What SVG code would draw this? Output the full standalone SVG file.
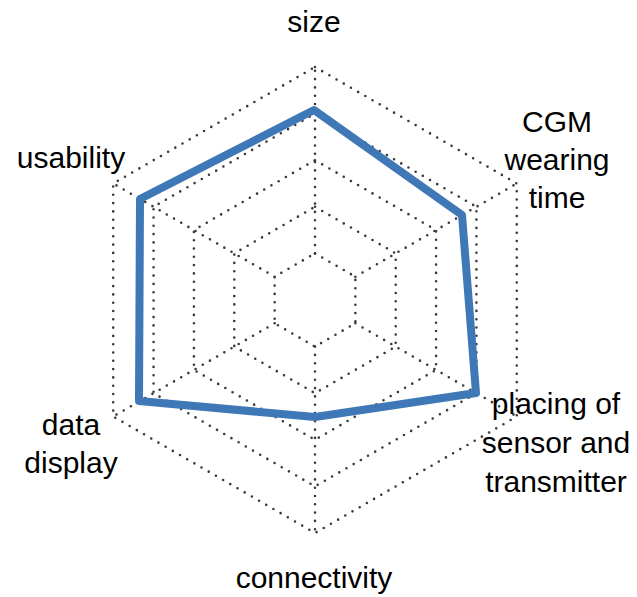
<svg xmlns="http://www.w3.org/2000/svg" width="637" height="597" viewBox="0 0 637 597">
<style>
.grid{fill:none;stroke:#3a3a3a;stroke-width:2.6;stroke-linecap:round;stroke-dasharray:0 8.3}
.data{fill:none;stroke:#3e78b6;stroke-width:8;stroke-linejoin:round;stroke-linecap:round}
.lbl{font-family:"Liberation Sans",Arial,sans-serif;font-size:30px;fill:#000;text-anchor:middle}
</style>
<rect width="637" height="597" fill="#fff"/>
<g id="grid">
<polygon class="grid" points="315,253.4 355.36,276.7 355.36,323.3 315,346.6 274.64,323.3 274.64,276.7"/>
<polygon class="grid" points="315,206.8 395.71,253.4 395.71,346.6 315,393.2 234.29,346.6 234.29,253.4"/>
<polygon class="grid" points="315,160.2 436.07,230.1 436.07,369.9 315,439.8 193.93,369.9 193.93,230.1"/>
<polygon class="grid" points="315,113.6 476.43,206.8 476.43,393.2 315,486.4 153.57,393.2 153.57,206.8"/>
<polygon class="grid" points="315,67 516.78,183.5 516.78,416.5 315,533 113.22,416.5 113.22,183.5"/>
</g>
<g id="connectors">
<line class="grid" x1="315" y1="253.4" x2="315" y2="67"/>
<line class="grid" x1="355.36" y1="276.7" x2="516.78" y2="183.5"/>
<line class="grid" x1="355.36" y1="323.3" x2="516.78" y2="416.5"/>
<line class="grid" x1="315" y1="346.6" x2="315" y2="533"/>
<line class="grid" x1="274.64" y1="323.3" x2="113.22" y2="416.5"/>
<line class="grid" x1="274.64" y1="276.7" x2="113.22" y2="183.5"/>
</g>
<g id="series">
<polygon class="data" points="314,110 462,215 476,393 315,417 139,401 140,199"/>
</g>
<g id="label-size"><text class="lbl" x="314" y="32">size</text></g>
<g id="label-cgm"><text class="lbl" x="557" y="132">CGM</text><text class="lbl" x="557" y="170">wearing</text><text class="lbl" x="557" y="208">time</text></g>
<g id="label-placing"><text class="lbl" x="556" y="414">placing of</text><text class="lbl" x="556" y="453">sensor and</text><text class="lbl" x="556" y="492">transmitter</text></g>
<g id="label-connectivity"><text class="lbl" x="314" y="588">connectivity</text></g>
<g id="label-data"><text class="lbl" x="71" y="435">data</text><text class="lbl" x="71" y="473">display</text></g>
<g id="label-usability"><text class="lbl" x="71" y="168">usability</text></g>
</svg>
